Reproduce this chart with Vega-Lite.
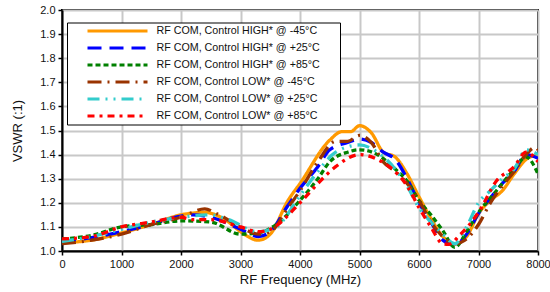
{
  "$schema": "https://vega.github.io/schema/vega-lite/v6.json",
  "autosize": "none",
  "width": 476,
  "height": 241,
  "padding": {"left": 62, "top": 10, "right": 12, "bottom": 41},
  "background": "white",
  "config": {
    "font": "Liberation Sans",
    "view": {"stroke": "black", "strokeWidth": 2},
    "axis": {"labelFont": "Liberation Sans", "titleFont": "Liberation Sans", "labelFontSize": 11, "titleFontSize": 13, "titleFontWeight": "normal", "labelColor": "#111", "titleColor": "#111", "gridColor": "#c8c8c8", "gridWidth": 2, "domainColor": "black", "domainWidth": 2, "tickColor": "black", "tickWidth": 1.5, "tickSize": 4}
  },
  "datasets": {
    "d": [
      {"f": 0, "v": 1.035, "s": "RF COM, Control HIGH* @ -45°C"},
      {"f": 500, "v": 1.045, "s": "RF COM, Control HIGH* @ -45°C"},
      {"f": 1000, "v": 1.075, "s": "RF COM, Control HIGH* @ -45°C"},
      {"f": 1500, "v": 1.11, "s": "RF COM, Control HIGH* @ -45°C"},
      {"f": 2000, "v": 1.15, "s": "RF COM, Control HIGH* @ -45°C"},
      {"f": 2400, "v": 1.16, "s": "RF COM, Control HIGH* @ -45°C"},
      {"f": 2800, "v": 1.12, "s": "RF COM, Control HIGH* @ -45°C"},
      {"f": 3000, "v": 1.08, "s": "RF COM, Control HIGH* @ -45°C"},
      {"f": 3300, "v": 1.045, "s": "RF COM, Control HIGH* @ -45°C"},
      {"f": 3500, "v": 1.07, "s": "RF COM, Control HIGH* @ -45°C"},
      {"f": 3800, "v": 1.21, "s": "RF COM, Control HIGH* @ -45°C"},
      {"f": 4000, "v": 1.28, "s": "RF COM, Control HIGH* @ -45°C"},
      {"f": 4500, "v": 1.46, "s": "RF COM, Control HIGH* @ -45°C"},
      {"f": 4700, "v": 1.495, "s": "RF COM, Control HIGH* @ -45°C"},
      {"f": 4850, "v": 1.495, "s": "RF COM, Control HIGH* @ -45°C"},
      {"f": 5000, "v": 1.52, "s": "RF COM, Control HIGH* @ -45°C"},
      {"f": 5200, "v": 1.49, "s": "RF COM, Control HIGH* @ -45°C"},
      {"f": 5400, "v": 1.41, "s": "RF COM, Control HIGH* @ -45°C"},
      {"f": 5600, "v": 1.39, "s": "RF COM, Control HIGH* @ -45°C"},
      {"f": 5800, "v": 1.32, "s": "RF COM, Control HIGH* @ -45°C"},
      {"f": 6000, "v": 1.225, "s": "RF COM, Control HIGH* @ -45°C"},
      {"f": 6200, "v": 1.135, "s": "RF COM, Control HIGH* @ -45°C"},
      {"f": 6400, "v": 1.06, "s": "RF COM, Control HIGH* @ -45°C"},
      {"f": 6600, "v": 1.03, "s": "RF COM, Control HIGH* @ -45°C"},
      {"f": 6800, "v": 1.06, "s": "RF COM, Control HIGH* @ -45°C"},
      {"f": 7000, "v": 1.155, "s": "RF COM, Control HIGH* @ -45°C"},
      {"f": 7200, "v": 1.21, "s": "RF COM, Control HIGH* @ -45°C"},
      {"f": 7400, "v": 1.25, "s": "RF COM, Control HIGH* @ -45°C"},
      {"f": 7600, "v": 1.32, "s": "RF COM, Control HIGH* @ -45°C"},
      {"f": 7800, "v": 1.38, "s": "RF COM, Control HIGH* @ -45°C"},
      {"f": 8000, "v": 1.40, "s": "RF COM, Control HIGH* @ -45°C"},

      {"f": 0, "v": 1.04, "s": "RF COM, Control HIGH* @ +25°C"},
      {"f": 500, "v": 1.055, "s": "RF COM, Control HIGH* @ +25°C"},
      {"f": 1000, "v": 1.08, "s": "RF COM, Control HIGH* @ +25°C"},
      {"f": 1500, "v": 1.11, "s": "RF COM, Control HIGH* @ +25°C"},
      {"f": 2000, "v": 1.145, "s": "RF COM, Control HIGH* @ +25°C"},
      {"f": 2200, "v": 1.15, "s": "RF COM, Control HIGH* @ +25°C"},
      {"f": 2500, "v": 1.14, "s": "RF COM, Control HIGH* @ +25°C"},
      {"f": 3000, "v": 1.09, "s": "RF COM, Control HIGH* @ +25°C"},
      {"f": 3300, "v": 1.06, "s": "RF COM, Control HIGH* @ +25°C"},
      {"f": 3500, "v": 1.08, "s": "RF COM, Control HIGH* @ +25°C"},
      {"f": 3800, "v": 1.19, "s": "RF COM, Control HIGH* @ +25°C"},
      {"f": 4000, "v": 1.26, "s": "RF COM, Control HIGH* @ +25°C"},
      {"f": 4300, "v": 1.35, "s": "RF COM, Control HIGH* @ +25°C"},
      {"f": 4500, "v": 1.42, "s": "RF COM, Control HIGH* @ +25°C"},
      {"f": 4800, "v": 1.45, "s": "RF COM, Control HIGH* @ +25°C"},
      {"f": 5000, "v": 1.465, "s": "RF COM, Control HIGH* @ +25°C"},
      {"f": 5200, "v": 1.45, "s": "RF COM, Control HIGH* @ +25°C"},
      {"f": 5400, "v": 1.41, "s": "RF COM, Control HIGH* @ +25°C"},
      {"f": 5600, "v": 1.38, "s": "RF COM, Control HIGH* @ +25°C"},
      {"f": 5800, "v": 1.30, "s": "RF COM, Control HIGH* @ +25°C"},
      {"f": 6000, "v": 1.20, "s": "RF COM, Control HIGH* @ +25°C"},
      {"f": 6200, "v": 1.12, "s": "RF COM, Control HIGH* @ +25°C"},
      {"f": 6400, "v": 1.045, "s": "RF COM, Control HIGH* @ +25°C"},
      {"f": 6600, "v": 1.025, "s": "RF COM, Control HIGH* @ +25°C"},
      {"f": 6800, "v": 1.07, "s": "RF COM, Control HIGH* @ +25°C"},
      {"f": 7000, "v": 1.155, "s": "RF COM, Control HIGH* @ +25°C"},
      {"f": 7200, "v": 1.22, "s": "RF COM, Control HIGH* @ +25°C"},
      {"f": 7400, "v": 1.28, "s": "RF COM, Control HIGH* @ +25°C"},
      {"f": 7600, "v": 1.33, "s": "RF COM, Control HIGH* @ +25°C"},
      {"f": 7800, "v": 1.40, "s": "RF COM, Control HIGH* @ +25°C"},
      {"f": 8000, "v": 1.385, "s": "RF COM, Control HIGH* @ +25°C"},

      {"f": 0, "v": 1.05, "s": "RF COM, Control HIGH* @ +85°C"},
      {"f": 500, "v": 1.065, "s": "RF COM, Control HIGH* @ +85°C"},
      {"f": 1000, "v": 1.10, "s": "RF COM, Control HIGH* @ +85°C"},
      {"f": 1500, "v": 1.11, "s": "RF COM, Control HIGH* @ +85°C"},
      {"f": 2000, "v": 1.125, "s": "RF COM, Control HIGH* @ +85°C"},
      {"f": 2500, "v": 1.12, "s": "RF COM, Control HIGH* @ +85°C"},
      {"f": 3000, "v": 1.07, "s": "RF COM, Control HIGH* @ +85°C"},
      {"f": 3300, "v": 1.075, "s": "RF COM, Control HIGH* @ +85°C"},
      {"f": 3600, "v": 1.11, "s": "RF COM, Control HIGH* @ +85°C"},
      {"f": 4000, "v": 1.21, "s": "RF COM, Control HIGH* @ +85°C"},
      {"f": 4300, "v": 1.30, "s": "RF COM, Control HIGH* @ +85°C"},
      {"f": 4500, "v": 1.37, "s": "RF COM, Control HIGH* @ +85°C"},
      {"f": 4800, "v": 1.41, "s": "RF COM, Control HIGH* @ +85°C"},
      {"f": 5000, "v": 1.42, "s": "RF COM, Control HIGH* @ +85°C"},
      {"f": 5300, "v": 1.40, "s": "RF COM, Control HIGH* @ +85°C"},
      {"f": 5600, "v": 1.34, "s": "RF COM, Control HIGH* @ +85°C"},
      {"f": 5800, "v": 1.29, "s": "RF COM, Control HIGH* @ +85°C"},
      {"f": 6000, "v": 1.21, "s": "RF COM, Control HIGH* @ +85°C"},
      {"f": 6200, "v": 1.15, "s": "RF COM, Control HIGH* @ +85°C"},
      {"f": 6400, "v": 1.085, "s": "RF COM, Control HIGH* @ +85°C"},
      {"f": 6600, "v": 1.015, "s": "RF COM, Control HIGH* @ +85°C"},
      {"f": 6800, "v": 1.08, "s": "RF COM, Control HIGH* @ +85°C"},
      {"f": 7000, "v": 1.16, "s": "RF COM, Control HIGH* @ +85°C"},
      {"f": 7200, "v": 1.22, "s": "RF COM, Control HIGH* @ +85°C"},
      {"f": 7400, "v": 1.28, "s": "RF COM, Control HIGH* @ +85°C"},
      {"f": 7600, "v": 1.34, "s": "RF COM, Control HIGH* @ +85°C"},
      {"f": 7800, "v": 1.39, "s": "RF COM, Control HIGH* @ +85°C"},
      {"f": 8000, "v": 1.32, "s": "RF COM, Control HIGH* @ +85°C"},

      {"f": 0, "v": 1.03, "s": "RF COM, Control LOW* @ -45°C"},
      {"f": 500, "v": 1.045, "s": "RF COM, Control LOW* @ -45°C"},
      {"f": 1000, "v": 1.07, "s": "RF COM, Control LOW* @ -45°C"},
      {"f": 1500, "v": 1.11, "s": "RF COM, Control LOW* @ -45°C"},
      {"f": 2000, "v": 1.14, "s": "RF COM, Control LOW* @ -45°C"},
      {"f": 2400, "v": 1.175, "s": "RF COM, Control LOW* @ -45°C"},
      {"f": 2600, "v": 1.155, "s": "RF COM, Control LOW* @ -45°C"},
      {"f": 3000, "v": 1.10, "s": "RF COM, Control LOW* @ -45°C"},
      {"f": 3300, "v": 1.07, "s": "RF COM, Control LOW* @ -45°C"},
      {"f": 3500, "v": 1.08, "s": "RF COM, Control LOW* @ -45°C"},
      {"f": 3800, "v": 1.18, "s": "RF COM, Control LOW* @ -45°C"},
      {"f": 4000, "v": 1.25, "s": "RF COM, Control LOW* @ -45°C"},
      {"f": 4300, "v": 1.37, "s": "RF COM, Control LOW* @ -45°C"},
      {"f": 4600, "v": 1.455, "s": "RF COM, Control LOW* @ -45°C"},
      {"f": 4800, "v": 1.455, "s": "RF COM, Control LOW* @ -45°C"},
      {"f": 5000, "v": 1.48, "s": "RF COM, Control LOW* @ -45°C"},
      {"f": 5200, "v": 1.45, "s": "RF COM, Control LOW* @ -45°C"},
      {"f": 5400, "v": 1.37, "s": "RF COM, Control LOW* @ -45°C"},
      {"f": 5600, "v": 1.33, "s": "RF COM, Control LOW* @ -45°C"},
      {"f": 5800, "v": 1.28, "s": "RF COM, Control LOW* @ -45°C"},
      {"f": 6000, "v": 1.21, "s": "RF COM, Control LOW* @ -45°C"},
      {"f": 6200, "v": 1.12, "s": "RF COM, Control LOW* @ -45°C"},
      {"f": 6400, "v": 1.06, "s": "RF COM, Control LOW* @ -45°C"},
      {"f": 6600, "v": 1.03, "s": "RF COM, Control LOW* @ -45°C"},
      {"f": 6800, "v": 1.05, "s": "RF COM, Control LOW* @ -45°C"},
      {"f": 7000, "v": 1.11, "s": "RF COM, Control LOW* @ -45°C"},
      {"f": 7200, "v": 1.20, "s": "RF COM, Control LOW* @ -45°C"},
      {"f": 7400, "v": 1.27, "s": "RF COM, Control LOW* @ -45°C"},
      {"f": 7600, "v": 1.33, "s": "RF COM, Control LOW* @ -45°C"},
      {"f": 7800, "v": 1.40, "s": "RF COM, Control LOW* @ -45°C"},
      {"f": 7950, "v": 1.43, "s": "RF COM, Control LOW* @ -45°C"},
      {"f": 8000, "v": 1.42, "s": "RF COM, Control LOW* @ -45°C"},

      {"f": 0, "v": 1.04, "s": "RF COM, Control LOW* @ +25°C"},
      {"f": 500, "v": 1.06, "s": "RF COM, Control LOW* @ +25°C"},
      {"f": 1000, "v": 1.09, "s": "RF COM, Control LOW* @ +25°C"},
      {"f": 1500, "v": 1.12, "s": "RF COM, Control LOW* @ +25°C"},
      {"f": 2000, "v": 1.14, "s": "RF COM, Control LOW* @ +25°C"},
      {"f": 2500, "v": 1.15, "s": "RF COM, Control LOW* @ +25°C"},
      {"f": 2800, "v": 1.13, "s": "RF COM, Control LOW* @ +25°C"},
      {"f": 3300, "v": 1.08, "s": "RF COM, Control LOW* @ +25°C"},
      {"f": 3600, "v": 1.10, "s": "RF COM, Control LOW* @ +25°C"},
      {"f": 4000, "v": 1.23, "s": "RF COM, Control LOW* @ +25°C"},
      {"f": 4300, "v": 1.33, "s": "RF COM, Control LOW* @ +25°C"},
      {"f": 4600, "v": 1.41, "s": "RF COM, Control LOW* @ +25°C"},
      {"f": 5000, "v": 1.44, "s": "RF COM, Control LOW* @ +25°C"},
      {"f": 5300, "v": 1.41, "s": "RF COM, Control LOW* @ +25°C"},
      {"f": 5600, "v": 1.34, "s": "RF COM, Control LOW* @ +25°C"},
      {"f": 5800, "v": 1.27, "s": "RF COM, Control LOW* @ +25°C"},
      {"f": 6000, "v": 1.18, "s": "RF COM, Control LOW* @ +25°C"},
      {"f": 6200, "v": 1.12, "s": "RF COM, Control LOW* @ +25°C"},
      {"f": 6400, "v": 1.07, "s": "RF COM, Control LOW* @ +25°C"},
      {"f": 6600, "v": 1.03, "s": "RF COM, Control LOW* @ +25°C"},
      {"f": 6800, "v": 1.10, "s": "RF COM, Control LOW* @ +25°C"},
      {"f": 7000, "v": 1.20, "s": "RF COM, Control LOW* @ +25°C"},
      {"f": 7200, "v": 1.25, "s": "RF COM, Control LOW* @ +25°C"},
      {"f": 7400, "v": 1.30, "s": "RF COM, Control LOW* @ +25°C"},
      {"f": 7600, "v": 1.34, "s": "RF COM, Control LOW* @ +25°C"},
      {"f": 7800, "v": 1.42, "s": "RF COM, Control LOW* @ +25°C"},
      {"f": 8000, "v": 1.40, "s": "RF COM, Control LOW* @ +25°C"},

      {"f": 0, "v": 1.05, "s": "RF COM, Control LOW* @ +85°C"},
      {"f": 500, "v": 1.06, "s": "RF COM, Control LOW* @ +85°C"},
      {"f": 1000, "v": 1.10, "s": "RF COM, Control LOW* @ +85°C"},
      {"f": 1500, "v": 1.12, "s": "RF COM, Control LOW* @ +85°C"},
      {"f": 2000, "v": 1.14, "s": "RF COM, Control LOW* @ +85°C"},
      {"f": 2200, "v": 1.13, "s": "RF COM, Control LOW* @ +85°C"},
      {"f": 2500, "v": 1.13, "s": "RF COM, Control LOW* @ +85°C"},
      {"f": 3000, "v": 1.10, "s": "RF COM, Control LOW* @ +85°C"},
      {"f": 3300, "v": 1.08, "s": "RF COM, Control LOW* @ +85°C"},
      {"f": 3500, "v": 1.09, "s": "RF COM, Control LOW* @ +85°C"},
      {"f": 4000, "v": 1.20, "s": "RF COM, Control LOW* @ +85°C"},
      {"f": 4300, "v": 1.28, "s": "RF COM, Control LOW* @ +85°C"},
      {"f": 4600, "v": 1.35, "s": "RF COM, Control LOW* @ +85°C"},
      {"f": 5000, "v": 1.40, "s": "RF COM, Control LOW* @ +85°C"},
      {"f": 5300, "v": 1.38, "s": "RF COM, Control LOW* @ +85°C"},
      {"f": 5500, "v": 1.35, "s": "RF COM, Control LOW* @ +85°C"},
      {"f": 5800, "v": 1.27, "s": "RF COM, Control LOW* @ +85°C"},
      {"f": 6000, "v": 1.18, "s": "RF COM, Control LOW* @ +85°C"},
      {"f": 6200, "v": 1.10, "s": "RF COM, Control LOW* @ +85°C"},
      {"f": 6400, "v": 1.03, "s": "RF COM, Control LOW* @ +85°C"},
      {"f": 6500, "v": 1.028, "s": "RF COM, Control LOW* @ +85°C"},
      {"f": 6700, "v": 1.07, "s": "RF COM, Control LOW* @ +85°C"},
      {"f": 7000, "v": 1.16, "s": "RF COM, Control LOW* @ +85°C"},
      {"f": 7300, "v": 1.29, "s": "RF COM, Control LOW* @ +85°C"},
      {"f": 7600, "v": 1.35, "s": "RF COM, Control LOW* @ +85°C"},
      {"f": 7800, "v": 1.41, "s": "RF COM, Control LOW* @ +85°C"},
      {"f": 8000, "v": 1.37, "s": "RF COM, Control LOW* @ +85°C"}
    ]
  },
  "data": {"name": "d"},
  "mark": {"type": "line", "strokeWidth": 3.3, "interpolate": "monotone", "clip": true},
  "encoding": {
    "x": {"field": "f", "type": "quantitative", "title": "RF Frequency (MHz)",
      "scale": {"domain": [0, 8000], "nice": false},
      "axis": {"values": [0, 1000, 2000, 3000, 4000, 5000, 6000, 7000, 8000], "format": "d", "titlePadding": 4, "labelPadding": 3, "labelFlush": false}},
    "y": {"field": "v", "type": "quantitative", "title": "VSWR (:1)",
      "scale": {"domain": [1.0, 2.0], "nice": false, "zero": false},
      "axis": {"values": [1.0, 1.1, 1.2, 1.3, 1.4, 1.5, 1.6, 1.7, 1.8, 1.9, 2.0], "format": ".1f", "titlePadding": 15, "labelPadding": 3}},
    "color": {"field": "s", "type": "nominal",
      "scale": {
        "domain": ["RF COM, Control HIGH* @ -45°C", "RF COM, Control HIGH* @ +25°C", "RF COM, Control HIGH* @ +85°C", "RF COM, Control LOW* @ -45°C", "RF COM, Control LOW* @ +25°C", "RF COM, Control LOW* @ +85°C"],
        "range": ["#ff9900", "#0000ff", "#008000", "#993300", "#33cccc", "#ff0000"]},
      "legend": {"title": null, "orient": "none", "legendX": 5, "legendY": 12.5, "fillColor": "white", "strokeColor": "black", "padding": 2,
        "symbolType": "M-6,0H6", "symbolSize": 100, "symbolStrokeWidth": 3, "symbolFillColor": "transparent", "symbolOffset": 42, "labelOffset": 32.5,
        "labelFont": "Liberation Sans", "labelFontSize": 10.7, "labelColor": "#111", "rowPadding": 4.0, "labelLimit": 400,
        "labelExpr": "datum.label + '\u00a0\u00a0\u00a0\u00a0\u00a0\u00a0\u200b'"}},
    "strokeDash": {"field": "s", "type": "nominal",
      "scale": {
        "domain": ["RF COM, Control HIGH* @ -45°C", "RF COM, Control HIGH* @ +25°C", "RF COM, Control HIGH* @ +85°C", "RF COM, Control LOW* @ -45°C", "RF COM, Control LOW* @ +25°C", "RF COM, Control LOW* @ +85°C"],
        "range": [[1, 0], [14, 8], [5, 3], [14, 6, 2, 6], [12, 6, 2, 6, 2, 6], [7, 5, 3, 5]]},
      "legend": null}
  }
}
